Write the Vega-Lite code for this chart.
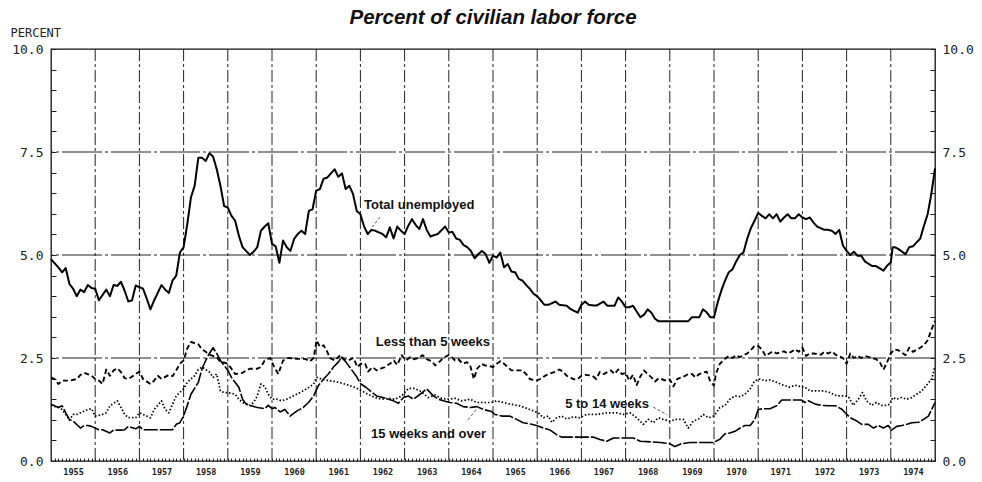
{
"$schema": "https://vega.github.io/schema/vega-lite/v6.json",
"width": 884, "height": 412,
"autosize": "none",
"padding": {"left": 51, "top": 49, "right": 47, "bottom": 21},
"background": "white",
"config": {"view": {"stroke": "#111", "strokeWidth": 1.3}},
"title": {"text": "Percent of civilian labor force", "font": "Liberation Sans", "fontSize": 20.5, "fontWeight": "bold", "fontStyle": "italic", "anchor": "middle", "frame": "group", "offset": -2, "color": "#111"},
"datasets": {
"series": [
{"s":"total","m":0,"v":4.9},{"s":"total","m":2,"v":4.7},{"s":"total","m":3,"v":4.58},{"s":"total","m":4,"v":4.68},{"s":"total","m":5,"v":4.3},{"s":"total","m":6,"v":4.18},{"s":"total","m":7,"v":4.0},{"s":"total","m":8,"v":4.16},{"s":"total","m":9,"v":4.1},{"s":"total","m":10,"v":4.27},{"s":"total","m":11,"v":4.2},{"s":"total","m":12,"v":4.18},{"s":"total","m":13,"v":3.9},{"s":"total","m":15,"v":4.16},{"s":"total","m":16,"v":4.0},{"s":"total","m":17,"v":4.27},{"s":"total","m":18,"v":4.25},{"s":"total","m":19,"v":4.35},{"s":"total","m":20,"v":4.13},{"s":"total","m":21,"v":3.87},{"s":"total","m":22,"v":3.9},{"s":"total","m":23,"v":4.26},{"s":"total","m":24,"v":4.22},{"s":"total","m":25,"v":4.18},{"s":"total","m":26,"v":3.94},{"s":"total","m":27,"v":3.68},{"s":"total","m":28,"v":3.9},{"s":"total","m":30,"v":4.27},{"s":"total","m":31,"v":4.16},{"s":"total","m":32,"v":4.08},{"s":"total","m":33,"v":4.38},{"s":"total","m":34,"v":4.5},{"s":"total","m":35,"v":5.06},{"s":"total","m":36,"v":5.19},{"s":"total","m":37,"v":5.75},{"s":"total","m":38,"v":6.4},{"s":"total","m":39,"v":6.68},{"s":"total","m":40,"v":7.36},{"s":"total","m":41,"v":7.36},{"s":"total","m":42,"v":7.28},{"s":"total","m":43,"v":7.47},{"s":"total","m":44,"v":7.39},{"s":"total","m":45,"v":7.08},{"s":"total","m":46,"v":6.68},{"s":"total","m":47,"v":6.19},{"s":"total","m":48,"v":6.15},{"s":"total","m":49,"v":5.95},{"s":"total","m":50,"v":5.83},{"s":"total","m":51,"v":5.47},{"s":"total","m":52,"v":5.19},{"s":"total","m":54,"v":5.0},{"s":"total","m":55,"v":5.08},{"s":"total","m":56,"v":5.19},{"s":"total","m":57,"v":5.59},{"s":"total","m":58,"v":5.69},{"s":"total","m":59,"v":5.77},{"s":"total","m":60,"v":5.27},{"s":"total","m":61,"v":5.21},{"s":"total","m":62,"v":4.81},{"s":"total","m":63,"v":5.35},{"s":"total","m":64,"v":5.19},{"s":"total","m":65,"v":5.1},{"s":"total","m":66,"v":5.39},{"s":"total","m":67,"v":5.51},{"s":"total","m":68,"v":5.59},{"s":"total","m":69,"v":5.51},{"s":"total","m":70,"v":6.07},{"s":"total","m":71,"v":6.11},{"s":"total","m":72,"v":6.56},{"s":"total","m":73,"v":6.6},{"s":"total","m":74,"v":6.85},{"s":"total","m":75,"v":6.88},{"s":"total","m":76,"v":6.98},{"s":"total","m":77,"v":7.08},{"s":"total","m":78,"v":6.9},{"s":"total","m":79,"v":6.98},{"s":"total","m":80,"v":6.6},{"s":"total","m":81,"v":6.68},{"s":"total","m":82,"v":6.48},{"s":"total","m":83,"v":6.07},{"s":"total","m":84,"v":5.99},{"s":"total","m":85,"v":5.69},{"s":"total","m":86,"v":5.51},{"s":"total","m":87,"v":5.61},{"s":"total","m":88,"v":5.59},{"s":"total","m":90,"v":5.51},{"s":"total","m":91,"v":5.43},{"s":"total","m":92,"v":5.67},{"s":"total","m":93,"v":5.4},{"s":"total","m":94,"v":5.69},{"s":"total","m":95,"v":5.59},{"s":"total","m":96,"v":5.51},{"s":"total","m":97,"v":5.71},{"s":"total","m":98,"v":5.87},{"s":"total","m":99,"v":5.73},{"s":"total","m":100,"v":5.63},{"s":"total","m":101,"v":5.87},{"s":"total","m":102,"v":5.61},{"s":"total","m":103,"v":5.45},{"s":"total","m":104,"v":5.48},{"s":"total","m":105,"v":5.51},{"s":"total","m":107,"v":5.69},{"s":"total","m":108,"v":5.55},{"s":"total","m":109,"v":5.56},{"s":"total","m":110,"v":5.4},{"s":"total","m":111,"v":5.37},{"s":"total","m":112,"v":5.24},{"s":"total","m":113,"v":5.19},{"s":"total","m":114,"v":5.1},{"s":"total","m":115,"v":4.92},{"s":"total","m":116,"v":5.02},{"s":"total","m":117,"v":5.1},{"s":"total","m":118,"v":5.02},{"s":"total","m":119,"v":4.81},{"s":"total","m":120,"v":4.98},{"s":"total","m":121,"v":4.94},{"s":"total","m":122,"v":5.06},{"s":"total","m":123,"v":4.7},{"s":"total","m":124,"v":4.78},{"s":"total","m":125,"v":4.6},{"s":"total","m":126,"v":4.58},{"s":"total","m":127,"v":4.42},{"s":"total","m":128,"v":4.38},{"s":"total","m":129,"v":4.27},{"s":"total","m":130,"v":4.18},{"s":"total","m":131,"v":4.06},{"s":"total","m":132,"v":4.0},{"s":"total","m":134,"v":3.79},{"s":"total","m":135,"v":3.79},{"s":"total","m":137,"v":3.87},{"s":"total","m":138,"v":3.79},{"s":"total","m":140,"v":3.77},{"s":"total","m":141,"v":3.69},{"s":"total","m":143,"v":3.6},{"s":"total","m":144,"v":3.79},{"s":"total","m":145,"v":3.87},{"s":"total","m":146,"v":3.79},{"s":"total","m":148,"v":3.77},{"s":"total","m":150,"v":3.87},{"s":"total","m":151,"v":3.77},{"s":"total","m":153,"v":3.77},{"s":"total","m":154,"v":3.97},{"s":"total","m":155,"v":3.87},{"s":"total","m":156,"v":3.73},{"s":"total","m":157,"v":3.73},{"s":"total","m":158,"v":3.77},{"s":"total","m":159,"v":3.63},{"s":"total","m":160,"v":3.49},{"s":"total","m":161,"v":3.55},{"s":"total","m":162,"v":3.68},{"s":"total","m":163,"v":3.6},{"s":"total","m":164,"v":3.45},{"s":"total","m":165,"v":3.39},{"s":"total","m":173,"v":3.39},{"s":"total","m":174,"v":3.49},{"s":"total","m":176,"v":3.49},{"s":"total","m":177,"v":3.68},{"s":"total","m":178,"v":3.61},{"s":"total","m":179,"v":3.49},{"s":"total","m":180,"v":3.49},{"s":"total","m":181,"v":3.85},{"s":"total","m":182,"v":4.14},{"s":"total","m":183,"v":4.38},{"s":"total","m":184,"v":4.58},{"s":"total","m":185,"v":4.65},{"s":"total","m":186,"v":4.84},{"s":"total","m":187,"v":5.0},{"s":"total","m":188,"v":5.06},{"s":"total","m":189,"v":5.39},{"s":"total","m":190,"v":5.65},{"s":"total","m":191,"v":5.83},{"s":"total","m":192,"v":6.02},{"s":"total","m":193,"v":5.95},{"s":"total","m":194,"v":5.89},{"s":"total","m":195,"v":5.99},{"s":"total","m":196,"v":5.89},{"s":"total","m":197,"v":5.99},{"s":"total","m":198,"v":5.81},{"s":"total","m":199,"v":5.91},{"s":"total","m":200,"v":5.99},{"s":"total","m":201,"v":5.89},{"s":"total","m":202,"v":5.89},{"s":"total","m":203,"v":5.99},{"s":"total","m":204,"v":5.91},{"s":"total","m":205,"v":5.87},{"s":"total","m":206,"v":5.91},{"s":"total","m":207,"v":5.79},{"s":"total","m":208,"v":5.69},{"s":"total","m":210,"v":5.61},{"s":"total","m":211,"v":5.61},{"s":"total","m":212,"v":5.59},{"s":"total","m":213,"v":5.51},{"s":"total","m":214,"v":5.61},{"s":"total","m":215,"v":5.23},{"s":"total","m":216,"v":5.1},{"s":"total","m":217,"v":5.0},{"s":"total","m":218,"v":5.08},{"s":"total","m":219,"v":4.98},{"s":"total","m":220,"v":4.98},{"s":"total","m":221,"v":4.84},{"s":"total","m":223,"v":4.73},{"s":"total","m":224,"v":4.73},{"s":"total","m":226,"v":4.62},{"s":"total","m":227,"v":4.74},{"s":"total","m":228,"v":4.82},{"s":"total","m":228.5,"v":5.19},{"s":"total","m":229,"v":5.19},{"s":"total","m":230,"v":5.15},{"s":"total","m":232,"v":5.02},{"s":"total","m":233,"v":5.19},{"s":"total","m":234,"v":5.21},{"s":"total","m":236,"v":5.4},{"s":"total","m":237,"v":5.71},{"s":"total","m":238,"v":5.99},{"s":"total","m":239,"v":6.48},{"s":"total","m":240,"v":7.1},
{"s":"lt5","m":0,"v":2.03},{"s":"lt5","m":1,"v":1.99},{"s":"lt5","m":2,"v":1.87},{"s":"lt5","m":3,"v":1.95},{"s":"lt5","m":5,"v":1.95},{"s":"lt5","m":7,"v":1.99},{"s":"lt5","m":8,"v":2.09},{"s":"lt5","m":9,"v":2.14},{"s":"lt5","m":11,"v":2.07},{"s":"lt5","m":12,"v":1.99},{"s":"lt5","m":13,"v":1.95},{"s":"lt5","m":14,"v":1.87},{"s":"lt5","m":15,"v":2.22},{"s":"lt5","m":16,"v":2.07},{"s":"lt5","m":17,"v":2.2},{"s":"lt5","m":18,"v":2.25},{"s":"lt5","m":19,"v":2.16},{"s":"lt5","m":20,"v":2.01},{"s":"lt5","m":21,"v":1.99},{"s":"lt5","m":23,"v":2.11},{"s":"lt5","m":24,"v":2.17},{"s":"lt5","m":25,"v":1.99},{"s":"lt5","m":27,"v":1.87},{"s":"lt5","m":28,"v":1.95},{"s":"lt5","m":29,"v":2.07},{"s":"lt5","m":30,"v":1.99},{"s":"lt5","m":32,"v":2.09},{"s":"lt5","m":33,"v":2.06},{"s":"lt5","m":34,"v":2.2},{"s":"lt5","m":35,"v":2.36},{"s":"lt5","m":36,"v":2.44},{"s":"lt5","m":37,"v":2.73},{"s":"lt5","m":38,"v":2.89},{"s":"lt5","m":40,"v":2.83},{"s":"lt5","m":41,"v":2.71},{"s":"lt5","m":42,"v":2.65},{"s":"lt5","m":43,"v":2.58},{"s":"lt5","m":45,"v":2.52},{"s":"lt5","m":46,"v":2.4},{"s":"lt5","m":47,"v":2.39},{"s":"lt5","m":48,"v":2.36},{"s":"lt5","m":49,"v":2.24},{"s":"lt5","m":50,"v":2.11},{"s":"lt5","m":52,"v":2.14},{"s":"lt5","m":53,"v":2.2},{"s":"lt5","m":54,"v":2.24},{"s":"lt5","m":56,"v":2.24},{"s":"lt5","m":57,"v":2.28},{"s":"lt5","m":58,"v":2.44},{"s":"lt5","m":59.5,"v":2.5},{"s":"lt5","m":60.4,"v":2.32},{"s":"lt5","m":61.7,"v":2.11},{"s":"lt5","m":63,"v":2.44},{"s":"lt5","m":64.4,"v":2.5},{"s":"lt5","m":66.7,"v":2.48},{"s":"lt5","m":69,"v":2.48},{"s":"lt5","m":70.3,"v":2.42},{"s":"lt5","m":71.3,"v":2.5},{"s":"lt5","m":72.1,"v":2.93},{"s":"lt5","m":73,"v":2.77},{"s":"lt5","m":74,"v":2.81},{"s":"lt5","m":75,"v":2.65},{"s":"lt5","m":75.7,"v":2.5},{"s":"lt5","m":77.1,"v":2.44},{"s":"lt5","m":78.5,"v":2.57},{"s":"lt5","m":79.4,"v":2.48},{"s":"lt5","m":80.7,"v":2.44},{"s":"lt5","m":82.1,"v":2.5},{"s":"lt5","m":83.2,"v":2.28},{"s":"lt5","m":84.1,"v":2.36},{"s":"lt5","m":85.3,"v":2.36},{"s":"lt5","m":86.1,"v":2.17},{"s":"lt5","m":87.3,"v":2.28},{"s":"lt5","m":88.4,"v":2.2},{"s":"lt5","m":89.5,"v":2.24},{"s":"lt5","m":90.6,"v":2.28},{"s":"lt5","m":92,"v":2.36},{"s":"lt5","m":93.1,"v":2.44},{"s":"lt5","m":94,"v":2.33},{"s":"lt5","m":95.2,"v":2.57},{"s":"lt5","m":96.4,"v":2.44},{"s":"lt5","m":97.5,"v":2.52},{"s":"lt5","m":98.5,"v":2.47},{"s":"lt5","m":99.7,"v":2.5},{"s":"lt5","m":100.9,"v":2.57},{"s":"lt5","m":102,"v":2.47},{"s":"lt5","m":103.4,"v":2.42},{"s":"lt5","m":104.3,"v":2.32},{"s":"lt5","m":105.6,"v":2.42},{"s":"lt5","m":106.5,"v":2.5},{"s":"lt5","m":107.9,"v":2.57},{"s":"lt5","m":108.8,"v":2.52},{"s":"lt5","m":109.7,"v":2.44},{"s":"lt5","m":110.6,"v":2.47},{"s":"lt5","m":111.8,"v":2.36},{"s":"lt5","m":112.9,"v":2.4},{"s":"lt5","m":113.8,"v":2.32},{"s":"lt5","m":114.8,"v":1.99},{"s":"lt5","m":115.7,"v":2.24},{"s":"lt5","m":116.9,"v":2.36},{"s":"lt5","m":117.8,"v":2.32},{"s":"lt5","m":119.2,"v":2.3},{"s":"lt5","m":120,"v":2.28},{"s":"lt5","m":121,"v":2.36},{"s":"lt5","m":122,"v":2.42},{"s":"lt5","m":123,"v":2.36},{"s":"lt5","m":124,"v":2.28},{"s":"lt5","m":125,"v":2.2},{"s":"lt5","m":127,"v":2.2},{"s":"lt5","m":128,"v":2.2},{"s":"lt5","m":129,"v":2.11},{"s":"lt5","m":130,"v":1.99},{"s":"lt5","m":131.8,"v":1.95},{"s":"lt5","m":132.8,"v":1.99},{"s":"lt5","m":134,"v":2.06},{"s":"lt5","m":135,"v":2.11},{"s":"lt5","m":137,"v":2.17},{"s":"lt5","m":138,"v":2.22},{"s":"lt5","m":139,"v":2.17},{"s":"lt5","m":140,"v":2.07},{"s":"lt5","m":142,"v":1.98},{"s":"lt5","m":143,"v":1.99},{"s":"lt5","m":144,"v":2.07},{"s":"lt5","m":145,"v":2.09},{"s":"lt5","m":147,"v":2.07},{"s":"lt5","m":148,"v":1.99},{"s":"lt5","m":149,"v":2.16},{"s":"lt5","m":150,"v":2.11},{"s":"lt5","m":152,"v":2.2},{"s":"lt5","m":153,"v":2.11},{"s":"lt5","m":154,"v":2.22},{"s":"lt5","m":155,"v":2.11},{"s":"lt5","m":156,"v":2.14},{"s":"lt5","m":157,"v":1.95},{"s":"lt5","m":158,"v":2.09},{"s":"lt5","m":159,"v":1.84},{"s":"lt5","m":160,"v":2.05},{"s":"lt5","m":161,"v":2.2},{"s":"lt5","m":162,"v":2.11},{"s":"lt5","m":163,"v":2.03},{"s":"lt5","m":164,"v":1.93},{"s":"lt5","m":165,"v":2.01},{"s":"lt5","m":167,"v":1.95},{"s":"lt5","m":168,"v":1.98},{"s":"lt5","m":169,"v":1.81},{"s":"lt5","m":170,"v":1.99},{"s":"lt5","m":172,"v":2.06},{"s":"lt5","m":173,"v":2.11},{"s":"lt5","m":174,"v":2.11},{"s":"lt5","m":175,"v":2.03},{"s":"lt5","m":176,"v":2.11},{"s":"lt5","m":177,"v":2.14},{"s":"lt5","m":178,"v":2.17},{"s":"lt5","m":179,"v":1.93},{"s":"lt5","m":180,"v":1.83},{"s":"lt5","m":180.5,"v":2.11},{"s":"lt5","m":181.6,"v":2.36},{"s":"lt5","m":183,"v":2.48},{"s":"lt5","m":184,"v":2.55},{"s":"lt5","m":185,"v":2.5},{"s":"lt5","m":186,"v":2.57},{"s":"lt5","m":187,"v":2.52},{"s":"lt5","m":189,"v":2.61},{"s":"lt5","m":190,"v":2.69},{"s":"lt5","m":191,"v":2.79},{"s":"lt5","m":192,"v":2.79},{"s":"lt5","m":193,"v":2.71},{"s":"lt5","m":194,"v":2.55},{"s":"lt5","m":195,"v":2.61},{"s":"lt5","m":196,"v":2.66},{"s":"lt5","m":197,"v":2.61},{"s":"lt5","m":199,"v":2.66},{"s":"lt5","m":200,"v":2.61},{"s":"lt5","m":201,"v":2.65},{"s":"lt5","m":202,"v":2.71},{"s":"lt5","m":203,"v":2.65},{"s":"lt5","m":204,"v":2.75},{"s":"lt5","m":205,"v":2.55},{"s":"lt5","m":206,"v":2.61},{"s":"lt5","m":207,"v":2.61},{"s":"lt5","m":209,"v":2.58},{"s":"lt5","m":210,"v":2.65},{"s":"lt5","m":211,"v":2.61},{"s":"lt5","m":212,"v":2.66},{"s":"lt5","m":213,"v":2.58},{"s":"lt5","m":215,"v":2.5},{"s":"lt5","m":216,"v":2.36},{"s":"lt5","m":217,"v":2.61},{"s":"lt5","m":218,"v":2.5},{"s":"lt5","m":219,"v":2.55},{"s":"lt5","m":220,"v":2.5},{"s":"lt5","m":221,"v":2.55},{"s":"lt5","m":223,"v":2.5},{"s":"lt5","m":224,"v":2.47},{"s":"lt5","m":225,"v":2.4},{"s":"lt5","m":226,"v":2.22},{"s":"lt5","m":227,"v":2.4},{"s":"lt5","m":228,"v":2.61},{"s":"lt5","m":229,"v":2.71},{"s":"lt5","m":230,"v":2.69},{"s":"lt5","m":232,"v":2.57},{"s":"lt5","m":233,"v":2.75},{"s":"lt5","m":234,"v":2.65},{"s":"lt5","m":236,"v":2.75},{"s":"lt5","m":237,"v":2.81},{"s":"lt5","m":238,"v":2.93},{"s":"lt5","m":239,"v":3.18},{"s":"lt5","m":240,"v":3.4},
{"s":"w5to14","m":0,"v":1.35},{"s":"w5to14","m":2,"v":1.3},{"s":"w5to14","m":3,"v":1.25},{"s":"w5to14","m":4,"v":1.13},{"s":"w5to14","m":5,"v":0.99},{"s":"w5to14","m":6,"v":1.13},{"s":"w5to14","m":7,"v":1.13},{"s":"w5to14","m":9,"v":1.21},{"s":"w5to14","m":10,"v":1.25},{"s":"w5to14","m":11,"v":1.27},{"s":"w5to14","m":12,"v":1.09},{"s":"w5to14","m":14,"v":1.13},{"s":"w5to14","m":15,"v":1.17},{"s":"w5to14","m":16,"v":1.34},{"s":"w5to14","m":18,"v":1.46},{"s":"w5to14","m":19,"v":1.3},{"s":"w5to14","m":20,"v":1.13},{"s":"w5to14","m":21,"v":1.05},{"s":"w5to14","m":23,"v":1.05},{"s":"w5to14","m":24,"v":1.17},{"s":"w5to14","m":25,"v":1.13},{"s":"w5to14","m":26,"v":1.09},{"s":"w5to14","m":27,"v":1.05},{"s":"w5to14","m":28,"v":1.25},{"s":"w5to14","m":30,"v":1.46},{"s":"w5to14","m":31,"v":1.25},{"s":"w5to14","m":32,"v":1.17},{"s":"w5to14","m":33,"v":1.38},{"s":"w5to14","m":34,"v":1.58},{"s":"w5to14","m":36,"v":1.75},{"s":"w5to14","m":37,"v":1.91},{"s":"w5to14","m":39,"v":2.07},{"s":"w5to14","m":40,"v":2.22},{"s":"w5to14","m":41,"v":2.28},{"s":"w5to14","m":43,"v":2.16},{"s":"w5to14","m":44,"v":2.03},{"s":"w5to14","m":45,"v":2.11},{"s":"w5to14","m":45.5,"v":1.91},{"s":"w5to14","m":46,"v":1.7},{"s":"w5to14","m":47,"v":1.66},{"s":"w5to14","m":48,"v":1.66},{"s":"w5to14","m":50,"v":1.62},{"s":"w5to14","m":51,"v":1.5},{"s":"w5to14","m":52,"v":1.42},{"s":"w5to14","m":54,"v":1.35},{"s":"w5to14","m":55,"v":1.42},{"s":"w5to14","m":56,"v":1.58},{"s":"w5to14","m":57,"v":1.87},{"s":"w5to14","m":58,"v":1.81},{"s":"w5to14","m":59,"v":1.62},{"s":"w5to14","m":60,"v":1.5},{"s":"w5to14","m":61.3,"v":1.5},{"s":"w5to14","m":62.6,"v":1.46},{"s":"w5to14","m":64,"v":1.5},{"s":"w5to14","m":65.8,"v":1.58},{"s":"w5to14","m":67.6,"v":1.66},{"s":"w5to14","m":69.4,"v":1.75},{"s":"w5to14","m":71.3,"v":1.87},{"s":"w5to14","m":72.1,"v":2.03},{"s":"w5to14","m":73.5,"v":1.99},{"s":"w5to14","m":75.3,"v":1.95},{"s":"w5to14","m":77.1,"v":1.93},{"s":"w5to14","m":78.9,"v":1.89},{"s":"w5to14","m":80.7,"v":1.84},{"s":"w5to14","m":82.5,"v":1.79},{"s":"w5to14","m":84.4,"v":1.7},{"s":"w5to14","m":86.1,"v":1.62},{"s":"w5to14","m":87.9,"v":1.54},{"s":"w5to14","m":89.8,"v":1.5},{"s":"w5to14","m":91.6,"v":1.52},{"s":"w5to14","m":93.4,"v":1.5},{"s":"w5to14","m":95.2,"v":1.58},{"s":"w5to14","m":97,"v":1.76},{"s":"w5to14","m":98.8,"v":1.76},{"s":"w5to14","m":100.6,"v":1.68},{"s":"w5to14","m":102.4,"v":1.54},{"s":"w5to14","m":104.3,"v":1.6},{"s":"w5to14","m":106.1,"v":1.52},{"s":"w5to14","m":107.9,"v":1.5},{"s":"w5to14","m":109.7,"v":1.52},{"s":"w5to14","m":111.5,"v":1.46},{"s":"w5to14","m":113.8,"v":1.5},{"s":"w5to14","m":115.6,"v":1.42},{"s":"w5to14","m":117.4,"v":1.42},{"s":"w5to14","m":119.6,"v":1.42},{"s":"w5to14","m":121,"v":1.46},{"s":"w5to14","m":124.6,"v":1.38},{"s":"w5to14","m":127.3,"v":1.34},{"s":"w5to14","m":130,"v":1.25},{"s":"w5to14","m":132.3,"v":1.17},{"s":"w5to14","m":133.7,"v":1.05},{"s":"w5to14","m":135,"v":1.09},{"s":"w5to14","m":136,"v":0.94},{"s":"w5to14","m":137.3,"v":1.05},{"s":"w5to14","m":138.6,"v":1.09},{"s":"w5to14","m":140,"v":1.02},{"s":"w5to14","m":141.8,"v":1.07},{"s":"w5to14","m":143.6,"v":1.05},{"s":"w5to14","m":145.4,"v":1.13},{"s":"w5to14","m":148.1,"v":1.13},{"s":"w5to14","m":150.9,"v":1.17},{"s":"w5to14","m":153.6,"v":1.17},{"s":"w5to14","m":155.4,"v":1.13},{"s":"w5to14","m":157.2,"v":1.17},{"s":"w5to14","m":159,"v":1.05},{"s":"w5to14","m":160.8,"v":0.89},{"s":"w5to14","m":162.2,"v":1.01},{"s":"w5to14","m":163.5,"v":0.93},{"s":"w5to14","m":164.9,"v":1.05},{"s":"w5to14","m":166.2,"v":1.01},{"s":"w5to14","m":168,"v":0.97},{"s":"w5to14","m":169.8,"v":1.01},{"s":"w5to14","m":171.7,"v":1.01},{"s":"w5to14","m":173,"v":0.8},{"s":"w5to14","m":174.4,"v":0.97},{"s":"w5to14","m":175.7,"v":1.01},{"s":"w5to14","m":177.1,"v":1.13},{"s":"w5to14","m":178.5,"v":1.05},{"s":"w5to14","m":179.8,"v":1.09},{"s":"w5to14","m":180.3,"v":1.13},{"s":"w5to14","m":181.6,"v":1.3},{"s":"w5to14","m":183,"v":1.35},{"s":"w5to14","m":184.3,"v":1.5},{"s":"w5to14","m":185.7,"v":1.58},{"s":"w5to14","m":187.1,"v":1.56},{"s":"w5to14","m":188.4,"v":1.62},{"s":"w5to14","m":189.8,"v":1.75},{"s":"w5to14","m":191.1,"v":1.95},{"s":"w5to14","m":192.5,"v":1.99},{"s":"w5to14","m":193.8,"v":1.95},{"s":"w5to14","m":195.2,"v":1.97},{"s":"w5to14","m":197,"v":1.91},{"s":"w5to14","m":198.8,"v":1.84},{"s":"w5to14","m":200.6,"v":1.79},{"s":"w5to14","m":202,"v":1.84},{"s":"w5to14","m":203.3,"v":1.81},{"s":"w5to14","m":204.7,"v":1.79},{"s":"w5to14","m":206.1,"v":1.7},{"s":"w5to14","m":207.9,"v":1.7},{"s":"w5to14","m":209.7,"v":1.7},{"s":"w5to14","m":211.5,"v":1.66},{"s":"w5to14","m":213.3,"v":1.58},{"s":"w5to14","m":215.1,"v":1.58},{"s":"w5to14","m":216.5,"v":1.56},{"s":"w5to14","m":217.8,"v":1.35},{"s":"w5to14","m":219.2,"v":1.5},{"s":"w5to14","m":220.3,"v":1.66},{"s":"w5to14","m":221.4,"v":1.46},{"s":"w5to14","m":222.8,"v":1.35},{"s":"w5to14","m":224.1,"v":1.42},{"s":"w5to14","m":225.5,"v":1.35},{"s":"w5to14","m":226.9,"v":1.35},{"s":"w5to14","m":227.8,"v":1.38},{"s":"w5to14","m":228.5,"v":1.54},{"s":"w5to14","m":229.6,"v":1.5},{"s":"w5to14","m":230.9,"v":1.54},{"s":"w5to14","m":232.3,"v":1.5},{"s":"w5to14","m":233.7,"v":1.54},{"s":"w5to14","m":235,"v":1.62},{"s":"w5to14","m":236.4,"v":1.7},{"s":"w5to14","m":237.7,"v":1.84},{"s":"w5to14","m":239.1,"v":1.99},{"s":"w5to14","m":240,"v":2.3},
{"s":"w15plus","m":0,"v":1.38},{"s":"w15plus","m":2,"v":1.3},{"s":"w15plus","m":3,"v":1.34},{"s":"w15plus","m":4,"v":1.17},{"s":"w15plus","m":5,"v":1.01},{"s":"w15plus","m":6,"v":0.97},{"s":"w15plus","m":8,"v":0.8},{"s":"w15plus","m":9,"v":0.86},{"s":"w15plus","m":10,"v":0.86},{"s":"w15plus","m":11,"v":0.84},{"s":"w15plus","m":13,"v":0.76},{"s":"w15plus","m":14,"v":0.76},{"s":"w15plus","m":16,"v":0.68},{"s":"w15plus","m":17,"v":0.75},{"s":"w15plus","m":19,"v":0.75},{"s":"w15plus","m":20,"v":0.76},{"s":"w15plus","m":21,"v":0.84},{"s":"w15plus","m":23,"v":0.78},{"s":"w15plus","m":24,"v":0.84},{"s":"w15plus","m":25,"v":0.76},{"s":"w15plus","m":29,"v":0.76},{"s":"w15plus","m":33,"v":0.76},{"s":"w15plus","m":34,"v":0.89},{"s":"w15plus","m":35,"v":0.93},{"s":"w15plus","m":36,"v":1.09},{"s":"w15plus","m":37,"v":1.35},{"s":"w15plus","m":38,"v":1.62},{"s":"w15plus","m":40,"v":1.91},{"s":"w15plus","m":41,"v":2.24},{"s":"w15plus","m":42,"v":2.44},{"s":"w15plus","m":43,"v":2.61},{"s":"w15plus","m":44,"v":2.75},{"s":"w15plus","m":45,"v":2.61},{"s":"w15plus","m":46,"v":2.44},{"s":"w15plus","m":47,"v":2.32},{"s":"w15plus","m":48,"v":2.2},{"s":"w15plus","m":49,"v":2.03},{"s":"w15plus","m":51,"v":1.79},{"s":"w15plus","m":52,"v":1.5},{"s":"w15plus","m":53,"v":1.38},{"s":"w15plus","m":54,"v":1.35},{"s":"w15plus","m":56,"v":1.3},{"s":"w15plus","m":58,"v":1.27},{"s":"w15plus","m":59,"v":1.35},{"s":"w15plus","m":60,"v":1.27},{"s":"w15plus","m":60.8,"v":1.3},{"s":"w15plus","m":62.2,"v":1.19},{"s":"w15plus","m":63.5,"v":1.25},{"s":"w15plus","m":64.9,"v":1.09},{"s":"w15plus","m":66.7,"v":1.21},{"s":"w15plus","m":68.5,"v":1.3},{"s":"w15plus","m":69.9,"v":1.42},{"s":"w15plus","m":71.3,"v":1.58},{"s":"w15plus","m":72.6,"v":1.83},{"s":"w15plus","m":74,"v":1.99},{"s":"w15plus","m":75.3,"v":2.11},{"s":"w15plus","m":76.7,"v":2.28},{"s":"w15plus","m":78,"v":2.4},{"s":"w15plus","m":78.9,"v":2.52},{"s":"w15plus","m":80.1,"v":2.4},{"s":"w15plus","m":81.4,"v":2.24},{"s":"w15plus","m":82.8,"v":2.07},{"s":"w15plus","m":84.1,"v":1.87},{"s":"w15plus","m":85.5,"v":1.79},{"s":"w15plus","m":87.2,"v":1.66},{"s":"w15plus","m":88.4,"v":1.58},{"s":"w15plus","m":90.1,"v":1.54},{"s":"w15plus","m":91.6,"v":1.5},{"s":"w15plus","m":93,"v":1.46},{"s":"w15plus","m":94.3,"v":1.4},{"s":"w15plus","m":95.7,"v":1.54},{"s":"w15plus","m":97,"v":1.58},{"s":"w15plus","m":98.4,"v":1.5},{"s":"w15plus","m":100.2,"v":1.62},{"s":"w15plus","m":102,"v":1.75},{"s":"w15plus","m":103.8,"v":1.58},{"s":"w15plus","m":105.2,"v":1.5},{"s":"w15plus","m":106.5,"v":1.46},{"s":"w15plus","m":108.3,"v":1.42},{"s":"w15plus","m":110.1,"v":1.4},{"s":"w15plus","m":111.9,"v":1.32},{"s":"w15plus","m":113.8,"v":1.3},{"s":"w15plus","m":115.6,"v":1.32},{"s":"w15plus","m":117.4,"v":1.25},{"s":"w15plus","m":119.6,"v":1.2},{"s":"w15plus","m":120.5,"v":1.13},{"s":"w15plus","m":122.4,"v":1.09},{"s":"w15plus","m":124.6,"v":1.09},{"s":"w15plus","m":126.4,"v":1.01},{"s":"w15plus","m":128.2,"v":0.93},{"s":"w15plus","m":130.5,"v":0.89},{"s":"w15plus","m":131.8,"v":0.86},{"s":"w15plus","m":133.7,"v":0.8},{"s":"w15plus","m":135.5,"v":0.75},{"s":"w15plus","m":137.3,"v":0.64},{"s":"w15plus","m":138.6,"v":0.58},{"s":"w15plus","m":147.2,"v":0.58},{"s":"w15plus","m":149,"v":0.52},{"s":"w15plus","m":150.9,"v":0.48},{"s":"w15plus","m":152.7,"v":0.56},{"s":"w15plus","m":158.1,"v":0.56},{"s":"w15plus","m":160,"v":0.48},{"s":"w15plus","m":165.4,"v":0.45},{"s":"w15plus","m":168,"v":0.42},{"s":"w15plus","m":169.4,"v":0.35},{"s":"w15plus","m":171.2,"v":0.42},{"s":"w15plus","m":173.5,"v":0.45},{"s":"w15plus","m":179.8,"v":0.45},{"s":"w15plus","m":181.6,"v":0.53},{"s":"w15plus","m":183,"v":0.66},{"s":"w15plus","m":184.3,"v":0.68},{"s":"w15plus","m":185.7,"v":0.72},{"s":"w15plus","m":187.1,"v":0.8},{"s":"w15plus","m":188.4,"v":0.86},{"s":"w15plus","m":189.8,"v":0.86},{"s":"w15plus","m":191.1,"v":1.01},{"s":"w15plus","m":192,"v":1.25},{"s":"w15plus","m":193.4,"v":1.27},{"s":"w15plus","m":195.2,"v":1.27},{"s":"w15plus","m":197,"v":1.34},{"s":"w15plus","m":198.4,"v":1.48},{"s":"w15plus","m":203.8,"v":1.48},{"s":"w15plus","m":204.7,"v":1.42},{"s":"w15plus","m":205.6,"v":1.46},{"s":"w15plus","m":207.5,"v":1.38},{"s":"w15plus","m":209.3,"v":1.35},{"s":"w15plus","m":211.2,"v":1.34},{"s":"w15plus","m":213,"v":1.34},{"s":"w15plus","m":214.8,"v":1.25},{"s":"w15plus","m":215.6,"v":1.17},{"s":"w15plus","m":217,"v":1.05},{"s":"w15plus","m":218.8,"v":0.97},{"s":"w15plus","m":220.1,"v":0.89},{"s":"w15plus","m":221.9,"v":0.89},{"s":"w15plus","m":223.3,"v":0.8},{"s":"w15plus","m":224.6,"v":0.86},{"s":"w15plus","m":226,"v":0.8},{"s":"w15plus","m":227.3,"v":0.86},{"s":"w15plus","m":228.2,"v":0.75},{"s":"w15plus","m":229.6,"v":0.84},{"s":"w15plus","m":231,"v":0.86},{"s":"w15plus","m":232.4,"v":0.89},{"s":"w15plus","m":233.7,"v":0.93},{"s":"w15plus","m":235.5,"v":0.94},{"s":"w15plus","m":236.9,"v":1.01},{"s":"w15plus","m":238.2,"v":1.09},{"s":"w15plus","m":239.1,"v":1.25},{"s":"w15plus","m":240,"v":1.42}
],
"vgrid": [{"m":12},{"m":24},{"m":36},{"m":48},{"m":60},{"m":72},{"m":84},{"m":96},{"m":108},{"m":120},{"m":132},{"m":144},{"m":156},{"m":168},{"m":180},{"m":192},{"m":204},{"m":216},{"m":228}],
"hgrid": [{"v":2.5},{"v":5},{"v":7.5}],
"notes": [{"label":"Total unemployed","m":85,"v":6.21},{"label":"Less than 5 weeks","m":88.2,"v":2.89},{"label":"5 to 14 weeks","m":139.6,"v":1.38},{"label":"15 weeks and over","m":86.9,"v":0.66}],
"leaders": [{"m":89.3,"v":5.92,"m2":87.2,"v2":5.68},{"m":163.5,"v":1.31,"m2":167.3,"v2":1.12},{"m":113.2,"v":1.0,"m2":116,"v2":1.31}]
},
"resolve": {"scale": {"y": "independent"}},
"layer": [
{"data": {"name": "vgrid"}, "mark": {"type": "rule", "color": "#222", "strokeWidth": 1, "strokeDash": [12, 3, 3, 3]},
 "encoding": {"x": {"field": "m", "type": "quantitative", "scale": {"domain": [0, 240], "nice": false, "zero": false},
   "axis": {"title": null, "tickCount": 240,
       "labelExpr": "datum.value % 12 == 6 ? '' + (1955 + (datum.value - 6) / 12) : ''", "labelOverlap": false, "labelBound": false, "labelFlush": false,
       "tickSize": -3, "tickColor": "#222", "labelPadding": 9, "grid": false, "domain": false,
       "labelFont": "DejaVu Sans Mono", "labelFontSize": 8.5, "labelFontWeight": "bold", "labelColor": "#222"}}}},
{"data": {"name": "hgrid"}, "mark": {"type": "rule", "color": "#222", "strokeWidth": 1.1, "strokeDash": [40, 3, 3, 3]},
 "encoding": {"y": {"field": "v", "type": "quantitative", "scale": {"domain": [0, 10], "nice": false},
   "axis": {"orient": "right", "title": null, "tickCount": 20,
     "labelExpr": "datum.value % 2.5 == 0 ? format(datum.value, '.1f') : ''", "labelOverlap": false, "labelBound": false, "labelFlush": false,
     "tickSize": -5, "tickColor": "#222", "labelPadding": 12, "grid": false, "domain": false,
     "labelFont": "DejaVu Sans Mono", "labelFontSize": 13, "labelColor": "#222"}}}},
{"data": {"name": "series"}, "mark": {"type": "line", "color": "black", "strokeJoin": "round"},
 "encoding": {
   "x": {"field": "m", "type": "quantitative", "scale": {"domain": [0, 240], "nice": false, "zero": false}, "axis": {"title": null}},
   "y": {"field": "v", "type": "quantitative", "scale": {"domain": [0, 10], "nice": false},
     "axis": {"orient": "left", "tickCount": 20,
       "labelExpr": "datum.value % 2.5 == 0 ? format(datum.value, '.1f') : ''", "labelOverlap": false, "labelBound": false, "labelFlush": false,
       "tickSize": -5, "tickColor": "#222", "labelPadding": 13, "grid": false, "domain": false,
       "labelFont": "DejaVu Sans Mono", "labelFontSize": 13, "labelColor": "#222",
       "title": "PERCENT", "titleAngle": 0, "titleAlign": "left", "titleBaseline": "middle", "titleX": -41, "titleY": -17,
       "titleFont": "DejaVu Sans Mono", "titleFontSize": 12, "titleFontWeight": "normal", "titleColor": "#222"}},
   "strokeDash": {"field": "s", "type": "nominal", "scale": {"domain": ["total", "lt5", "w5to14", "w15plus"], "range": [[1, 0], [5, 3], [1.5, 2], [14, 2]]}, "legend": null},
   "strokeWidth": {"field": "s", "type": "nominal", "scale": {"domain": ["total", "lt5", "w5to14", "w15plus"], "range": [2, 1.6, 1.7, 2]}, "legend": null}
 }},
{"data": {"name": "leaders"}, "mark": {"type": "rule", "color": "#333", "strokeWidth": 0.8, "strokeDash": [3, 2]},
 "encoding": {
   "x": {"field": "m", "type": "quantitative", "scale": {"domain": [0, 240], "nice": false, "zero": false}, "axis": {"title": null}},
   "x2": {"field": "m2"},
   "y": {"field": "v", "type": "quantitative", "scale": {"domain": [0, 10], "nice": false}, "axis": null},
   "y2": {"field": "v2"}}},
{"data": {"name": "notes"}, "mark": {"type": "text", "align": "left", "baseline": "middle", "font": "Liberation Sans", "fontWeight": "bold", "fontSize": 13, "color": "#111"},
 "encoding": {
   "x": {"field": "m", "type": "quantitative", "scale": {"domain": [0, 240], "nice": false, "zero": false}, "axis": {"title": null}},
   "y": {"field": "v", "type": "quantitative", "scale": {"domain": [0, 10], "nice": false}, "axis": null},
   "text": {"field": "label"}}}
]
}
